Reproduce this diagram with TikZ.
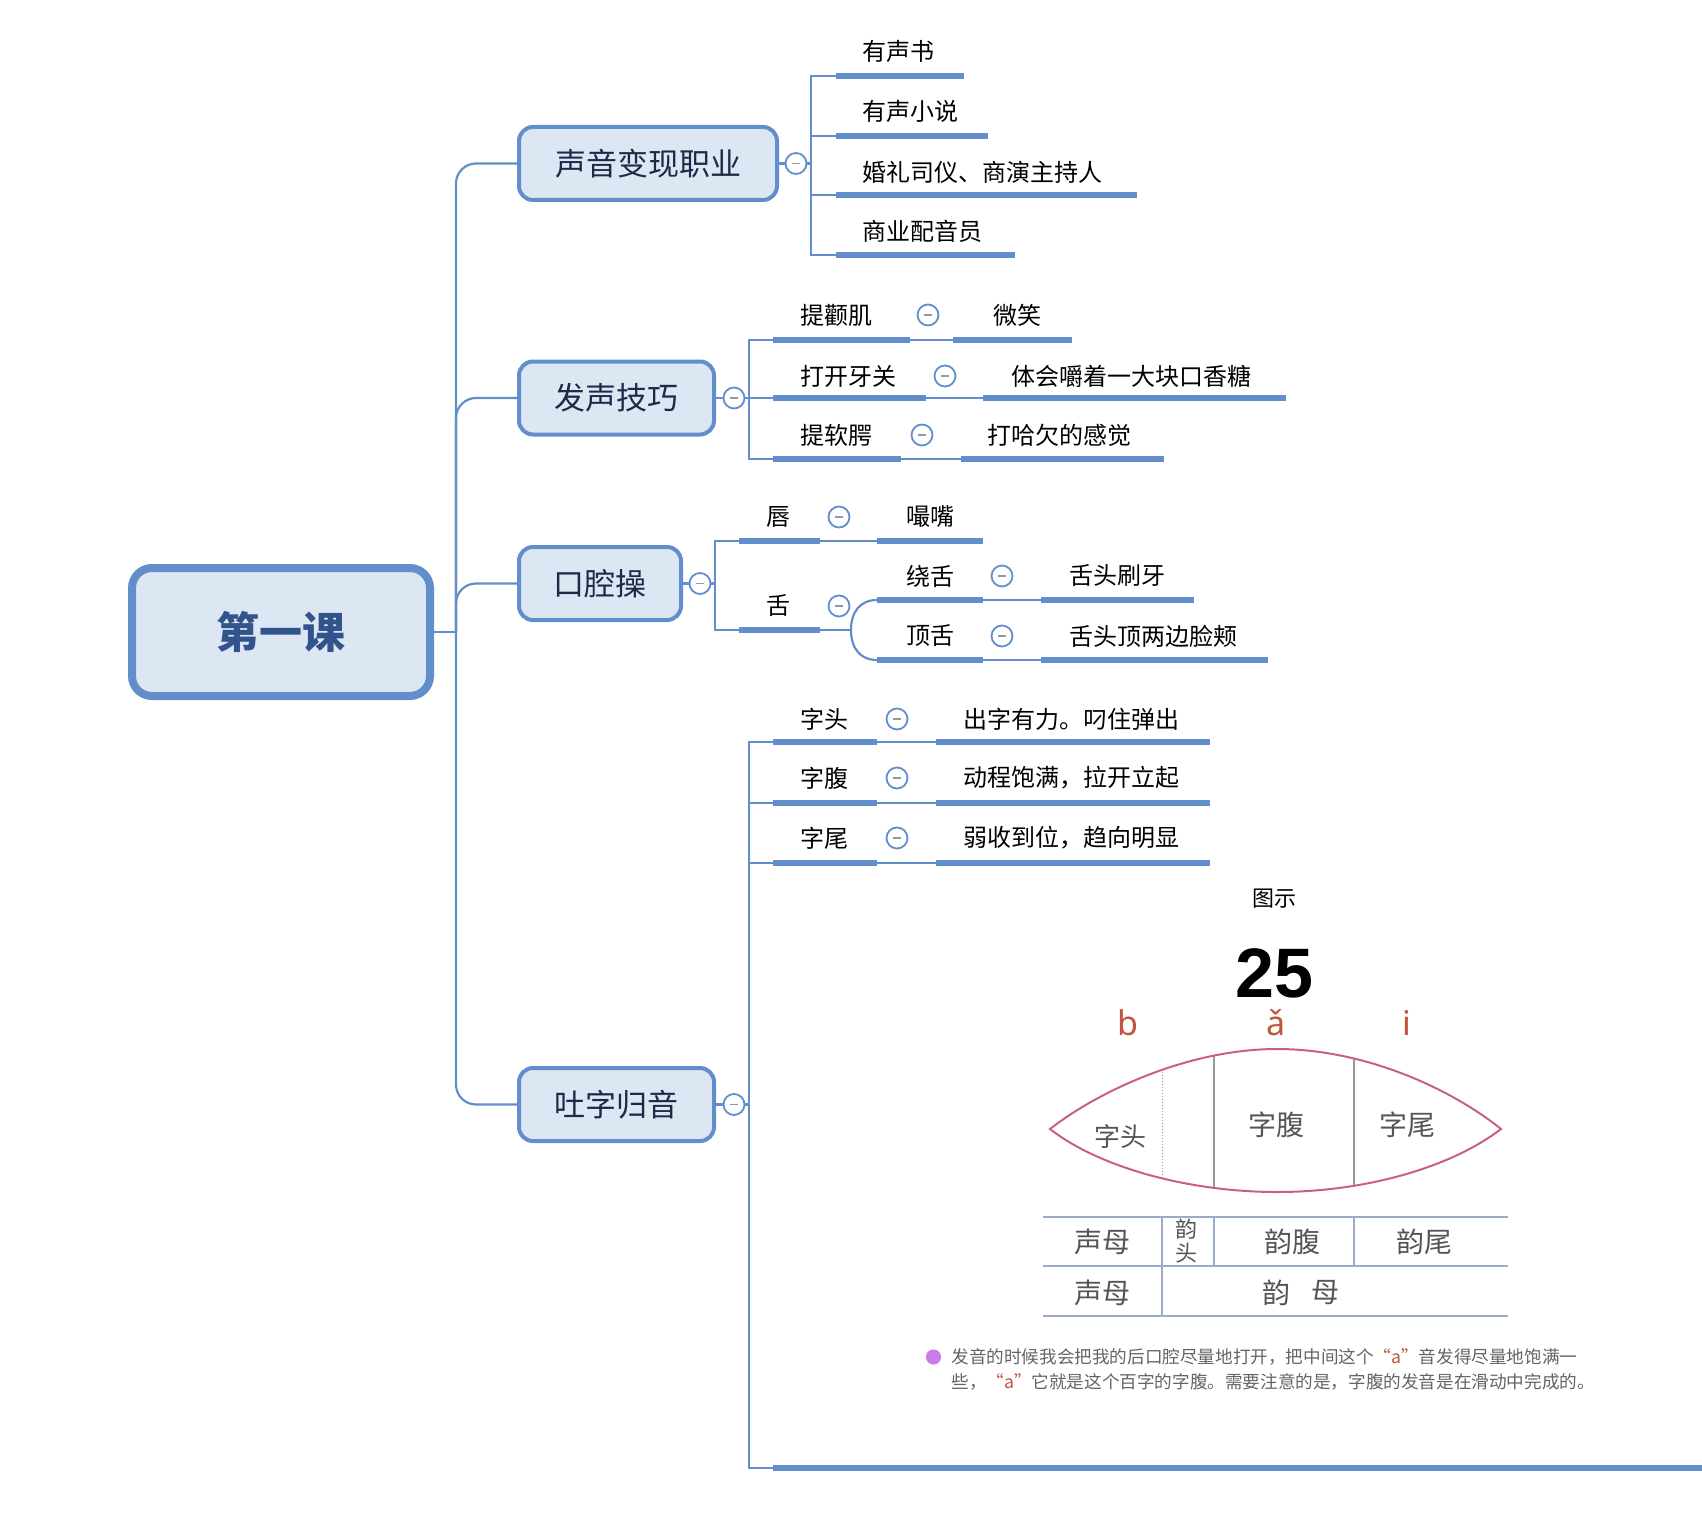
\documentclass[tikz,border=0pt]{standalone}
\usepackage{fontspec}
\setmainfont{Noto Sans CJK SC}
\newfontfamily\pyfont{Noto Sans}
\newfontfamily\numfont{Liberation Sans}
\definecolor{lineblue}{RGB}{99,142,204}
\definecolor{boxfill}{RGB}{221,231,243}
\definecolor{roottext}{RGB}{50,84,140}
\definecolor{ltext}{RGB}{28,42,72}
\definecolor{lenscol}{RGB}{201,95,135}
\definecolor{figline}{RGB}{155,170,205}
\definecolor{lensinner}{RGB}{150,152,165}
\definecolor{figtext}{RGB}{85,85,85}
\definecolor{pyred}{RGB}{190,85,60}
\definecolor{bulletcol}{RGB}{200,125,232}
\definecolor{notetext}{RGB}{100,100,100}
\definecolor{minuscol}{RGB}{150,150,170}
\newcommand\mylenspath{(1050,1129) .. controls (1100,1090) and (1190,1049) .. (1277,1049) .. controls (1364,1049) and (1450,1088) .. (1501,1129) .. controls (1450,1168) and (1364,1192) .. (1277,1192) .. controls (1190,1192) and (1100,1168) .. (1050,1129) -- cycle}
\begin{document}
\begin{tikzpicture}[x=0.5pt,y=-0.5pt,
  rootbox/.style={draw=lineblue, line width=4pt, fill=boxfill, rounded corners=10pt, minimum width=149pt, minimum height=64pt, font=\fontsize{21.5}{24}\selectfont\bfseries, text=roottext, inner sep=0pt},
  topicbox/.style={draw=lineblue, line width=2pt, fill=boxfill, rounded corners=7pt, minimum height=36.5pt, font=\fontsize{15.5}{18}\selectfont, text=ltext, inner sep=0pt},
  collapse/.style={circle, draw=lineblue, line width=0.9pt, fill=white, minimum size=10.5pt, inner sep=0pt, path picture={\draw[minuscol, line width=0.9pt] ([xshift=-2.2pt]path picture bounding box.center) -- ([xshift=2.2pt]path picture bounding box.center);}},
  leaftext/.style={anchor=west, inner sep=0pt, font=\fontsize{12}{14}\selectfont},
  uline/.style={lineblue, line width=3pt},
  conn/.style={lineblue, line width=1.1pt},
  figlabel/.style={inner sep=0pt, text=figtext, font=\fontsize{14}{16}\selectfont},
  notestyle/.style={anchor=west, inner sep=0pt, text=notetext, font=\fontsize{8.8}{11}\selectfont},
]
\useasboundingbox (0,0) rectangle (1702,1514);

% root and topics
\node[rootbox] (root) at (281,632) {第一课};
\node[topicbox, minimum width=129pt] (b1) at (648,163.5) {声音变现职业};
\node[topicbox, minimum width=97.5pt] (b2) at (616.5,398) {发声技巧};
\node[topicbox, minimum width=81pt] (b3) at (600,583.5) {口腔操};
\node[topicbox, minimum width=97.5pt] (b4) at (616.5,1104.5) {吐字归音};

\coordinate (trunk) at (456,632);
\draw[conn] (root.east) -- (trunk);
\draw[conn, rounded corners=10pt] (trunk) |- (b1.west);
\draw[conn, rounded corners=10pt] (trunk) |- (b2.west);
\draw[conn, rounded corners=10pt] (trunk) |- (b3.west);
\draw[conn, rounded corners=10pt] (trunk) |- (b4.west);

% ---------- branch 1
\node[collapse] (k1) at (796,163.5) {};
\coordinate (j1) at (811,163.5);
\draw[conn] (b1.east) -- (k1);
\draw[conn] (k1) -- (j1);
\coordinate (a11) at (836,76);  \coordinate (e11) at (964,76);
\coordinate (a12) at (836,136); \coordinate (e12) at (988,136);
\coordinate (a13) at (836,195); \coordinate (e13) at (1137,195);
\coordinate (a14) at (836,255); \coordinate (e14) at (1015,255);
\draw[conn] (j1) |- (a11); \draw[conn] (j1) |- (a12);
\draw[conn] (j1) |- (a13); \draw[conn] (j1) |- (a14);
\draw[uline] (a11) -- (e11); \draw[uline] (a12) -- (e12);
\draw[uline] (a13) -- (e13); \draw[uline] (a14) -- (e14);
\node[leaftext] (t11) at (862,51) {有声书};
\node[leaftext] (t12) at (862,111) {有声小说};
\node[leaftext] (t13) at (862,172) {婚礼司仪、商演主持人};
\node[leaftext] (t14) at (862,231) {商业配音员};

% ---------- branch 2
\node[collapse] (k2) at (734,398) {};
\coordinate (j2) at (749,398);
\draw[conn] (b2.east) -- (k2);
\draw[conn] (k2) -- (j2);
\coordinate (a21) at (773,340); \coordinate (e21) at (910,340); \coordinate (f21) at (953,340); \coordinate (g21) at (1072,340);
\coordinate (a22) at (773,398); \coordinate (e22) at (926,398); \coordinate (f22) at (983,398); \coordinate (g22) at (1286,398);
\coordinate (a23) at (773,459); \coordinate (e23) at (901,459); \coordinate (f23) at (961,459); \coordinate (g23) at (1164,459);
\draw[conn] (j2) |- (a21); \draw[conn] (j2) -- (a22); \draw[conn] (j2) |- (a23);
\draw[uline] (a21) -- (e21); \draw[conn] (e21) -- (f21); \draw[uline] (f21) -- (g21);
\draw[uline] (a22) -- (e22); \draw[conn] (e22) -- (f22); \draw[uline] (f22) -- (g22);
\draw[uline] (a23) -- (e23); \draw[conn] (e23) -- (f23); \draw[uline] (f23) -- (g23);
\node[leaftext] (t21) at (800,315) {提颧肌};
\node[collapse] (k21) at (928,315) {};
\node[leaftext] (s21) at (993,315) {微笑};
\node[leaftext] (t22) at (800,376) {打开牙关};
\node[collapse] (k22) at (945,376) {};
\node[leaftext] (s22) at (1011,376) {体会嚼着一大块口香糖};
\node[leaftext] (t23) at (800,435) {提软腭};
\node[collapse] (k23) at (922,435) {};
\node[leaftext] (s23) at (987,435) {打哈欠的感觉};

% ---------- branch 3
\node[collapse] (k3) at (700,583.5) {};
\coordinate (j3) at (715,583.5);
\draw[conn] (b3.east) -- (k3);
\draw[conn] (k3) -- (j3);
\coordinate (a31) at (739,541); \coordinate (e31) at (820,541); \coordinate (f31) at (877,541); \coordinate (g31) at (983,541);
\coordinate (a32) at (739,630); \coordinate (e32) at (820,630); \coordinate (fork) at (851,630);
\draw[conn] (j3) |- (a31); \draw[conn] (j3) |- (a32);
\draw[uline] (a31) -- (e31); \draw[conn] (e31) -- (f31); \draw[uline] (f31) -- (g31);
\draw[uline] (a32) -- (e32); \draw[conn] (e32) -- (fork);
\node[leaftext] (t31) at (766,517) {唇};
\node[collapse] (k31) at (839,517) {};
\node[leaftext] (s31) at (906,517) {嘬嘴};
\node[leaftext] (t32) at (766,606) {舌};
\node[collapse] (k32) at (839,606) {};
\coordinate (a33) at (877,600); \coordinate (e33) at (983,600); \coordinate (f33) at (1041,600); \coordinate (g33) at (1194,600);
\coordinate (a34) at (877,660); \coordinate (e34) at (983,660); \coordinate (f34) at (1041,660); \coordinate (g34) at (1268,660);
\draw[conn] (fork) .. controls (851,612) and (860,600) .. (a33);
\draw[conn] (fork) .. controls (851,648) and (860,660) .. (a34);
\draw[uline] (a33) -- (e33); \draw[conn] (e33) -- (f33); \draw[uline] (f33) -- (g33);
\draw[uline] (a34) -- (e34); \draw[conn] (e34) -- (f34); \draw[uline] (f34) -- (g34);
\node[leaftext] (t33) at (906,576) {绕舌};
\node[collapse] (k33) at (1002,576) {};
\node[leaftext] (s33) at (1069,576) {舌头刷牙};
\node[leaftext] (t34) at (906,636) {顶舌};
\node[collapse] (k34) at (1002,636) {};
\node[leaftext] (s34) at (1069,636) {舌头顶两边脸颊};

% ---------- branch 4
\node[collapse] (k4) at (734,1104.5) {};
\coordinate (j4) at (749,1104.5);
\draw[conn] (b4.east) -- (k4);
\draw[conn] (k4) -- (j4);
\coordinate (a41) at (773,742); \coordinate (e41) at (877,742); \coordinate (f41) at (936,742); \coordinate (g41) at (1210,742);
\coordinate (a42) at (773,803); \coordinate (e42) at (877,803); \coordinate (f42) at (936,803); \coordinate (g42) at (1210,803);
\coordinate (a43) at (773,863); \coordinate (e43) at (877,863); \coordinate (f43) at (936,863); \coordinate (g43) at (1210,863);
\coordinate (a45) at (773,1468); \coordinate (g45) at (1702,1468);
\draw[conn] (j4) |- (a41); \draw[conn] (j4) |- (a42); \draw[conn] (j4) |- (a43); \draw[conn] (j4) |- (a45);
\draw[uline] (a41) -- (e41); \draw[conn] (e41) -- (f41); \draw[uline] (f41) -- (g41);
\draw[uline] (a42) -- (e42); \draw[conn] (e42) -- (f42); \draw[uline] (f42) -- (g42);
\draw[uline] (a43) -- (e43); \draw[conn] (e43) -- (f43); \draw[uline] (f43) -- (g43);
\draw[uline] (a45) -- (g45);
\node[leaftext] (t41) at (800,719) {字头};
\node[collapse] (k41) at (897,719) {};
\node[leaftext] (s41) at (963,719) {出字有力。叼住弹出};
\node[leaftext] (t42) at (800,778) {字腹};
\node[collapse] (k42) at (897,778) {};
\node[leaftext] (s42) at (963,778) {动程饱满，拉开立起};
\node[leaftext] (t43) at (800,838) {字尾};
\node[collapse] (k43) at (897,838) {};
\node[leaftext] (s43) at (963,838) {弱收到位，趋向明显};

% ---------- picture inside last topic
\node[inner sep=0pt, font=\fontsize{11}{13}\selectfont] (tushi) at (1274,899) {图示};
\node[inner sep=0pt, font=\numfont\fontsize{35}{40}\selectfont\bfseries] (num) at (1274,973) {25};
\node[anchor=base, inner sep=0pt, text=pyred, font=\pyfont\fontsize{17}{20}\selectfont] (py1) at (1128,1035) {b};
\node[anchor=base, inner sep=0pt, text=pyred, font=\pyfont\fontsize{17}{20}\selectfont] (py2) at (1276,1035) {ǎ};
\node[anchor=base, inner sep=0pt, text=pyred, font=\pyfont\fontsize{17}{20}\selectfont] (py3) at (1407,1035) {i};

\begin{scope}
\clip \mylenspath;
\draw[lensinner, densely dotted, line width=0.5pt] (1162,1030) -- (1162,1210);
\draw[lensinner, line width=0.6pt] (1214,1030) -- (1214,1210);
\draw[lensinner, line width=0.6pt] (1354,1030) -- (1354,1210);
\end{scope}
\draw[lenscol, line width=1pt] \mylenspath;
\node[figlabel, font=\fontsize{13}{15}\selectfont] (lz1) at (1120,1137) {字头};
\node[figlabel] (lz2) at (1276,1125) {字腹};
\node[figlabel] (lz3) at (1407,1125) {字尾};

\draw[figline, line width=0.7pt] (1043,1217) -- (1508,1217);
\draw[figline, line width=0.7pt] (1043,1266) -- (1508,1266);
\draw[figline, line width=0.7pt] (1043,1316) -- (1508,1316);
\draw[figline, line width=0.7pt] (1162,1217) -- (1162,1316);
\draw[figline, line width=0.7pt] (1214,1217) -- (1214,1266);
\draw[figline, line width=0.7pt] (1354,1217) -- (1354,1266);
\node[figlabel] (c11) at (1102,1242) {声母};
\node[figlabel, font=\fontsize{11}{12}\selectfont] (c12a) at (1186,1229) {韵};
\node[figlabel, font=\fontsize{11}{12}\selectfont] (c12b) at (1186,1253) {头};
\node[figlabel] (c13) at (1292,1242) {韵腹};
\node[figlabel] (c14) at (1424,1242) {韵尾};
\node[figlabel] (c21) at (1102,1293) {声母};
\node[figlabel] (c22a) at (1276,1293) {韵};
\node[figlabel] (c22b) at (1325,1293) {母};

\fill[bulletcol] (933.5,1357) circle (3.8pt);
\node[notestyle] (n1) at (951,1357) {发音的时候我会把我的后口腔尽量地打开，把中间这个{\color{pyred}“a”}音发得尽量地饱满一};
\node[notestyle] (n2) at (951,1382) {些，{\color{pyred}“a”}它就是这个百字的字腹。需要注意的是，字腹的发音是在滑动中完成的。};
\end{tikzpicture}
\end{document}
